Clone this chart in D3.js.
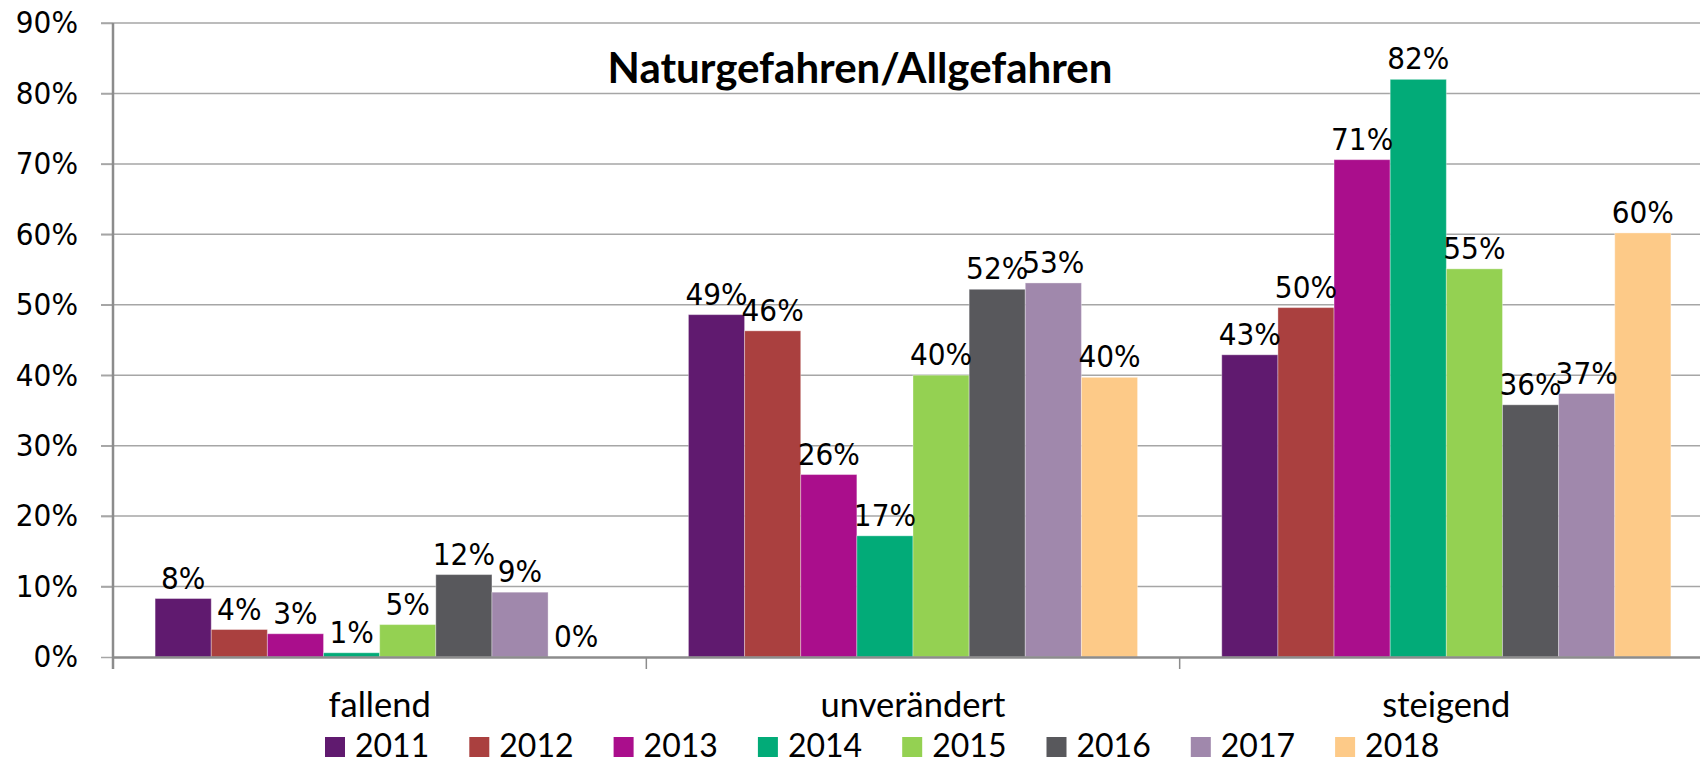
<!DOCTYPE html>
<html>
<head>
<meta charset="utf-8">
<script src="https://cdn.jsdelivr.net/npm/d3@7"></script>
<style>
  body { margin: 0; background: #fff; }
  svg { display: block; }
</style>
</head>
<body>
<div id="chart"></div>
<script>
// Chart data
const categories = ["fallend", "unverändert", "steigend"];
const years = ["2011", "2012", "2013", "2014", "2015", "2016", "2017", "2018"];
const colors = ["#601a6f", "#aa403f", "#aa0e8c", "#02ab78", "#94d152", "#58585c", "#a088ac", "#fdca88"];
// values in percent, one array per category (in year order)
const fallend = [8.3, 3.9, 3.3, 0.6, 4.6, 11.7, 9.2, 0];
const unveraendert = [48.6, 46.3, 25.9, 17.2, 40.0, 52.2, 53.1, 39.7];
const steigend = [42.9, 49.6, 70.6, 82.0, 55.1, 35.8, 37.4, 60.2];
const yTicks = [0, 10, 20, 30, 40, 50, 60, 70, 80, 90];
const title = "Naturgefahren/Allgefahren";

const seriesByCat = [fallend, unveraendert, steigend];

// Canvas
let svgWidth = 1700;
let svgHeight = 763;
let margin = { top: 23, right: -13, bottom: 106, left: 113 };
let width = svgWidth - margin.left - margin.right;
let height = svgHeight - margin.top - margin.bottom;

// text in the original is slightly stretched vertically
const stretch = 1.1;

let svg = d3.select("#chart")
    .append("svg")
    .attr("width", svgWidth)
    .attr("height", svgHeight);

let chartGroup = svg.append("g")
    .attr("transform", `translate(${margin.left}, ${margin.top})`);

// Scales
let x0 = d3.scaleBand()
    .domain(categories)
    .range([0, width])
    .padding(0);

let x1 = d3.scaleBand()
    .domain(years)
    .range([0, x0.bandwidth()])
    .paddingInner(0)
    .paddingOuter(0.75);

let y = d3.scaleLinear()
    .domain([0, 90])
    .range([height, 0]);

// Gridlines
chartGroup.append("g")
    .selectAll("line")
    .data(yTicks.filter(d => d > 0))
    .enter()
    .append("line")
    .attr("x1", -12)
    .attr("x2", width)
    .attr("y1", d => y(d))
    .attr("y2", d => y(d))
    .attr("stroke", "#a6a6a6")
    .attr("stroke-width", 1.5);

// Y axis labels
let leftAxis = d3.axisLeft(y)
    .tickValues(yTicks)
    .tickFormat(d => d + "%")
    .tickSize(12)
    .tickPadding(23);

let yAxis = chartGroup.append("g").call(leftAxis);
yAxis.select(".domain").remove();
yAxis.selectAll(".tick line").attr("stroke", "#a6a6a6").attr("stroke-width", 1.5);
yAxis.selectAll("text")
    .attr("transform", `scale(1, ${stretch})`)
    .style("font-family", "DejaVu Sans")
    .style("font-size", "28px")
    .attr("fill", "#000");

// Bars
let rows = [];
categories.forEach((c, i) => {
    years.forEach((yr, j) => {
        rows.push({ cat: c, year: yr, value: seriesByCat[i][j], color: colors[j] });
    });
});

chartGroup.append("g")
    .selectAll("rect")
    .data(rows)
    .enter()
    .append("rect")
    .attr("x", d => x0(d.cat) + x1(d.year))
    .attr("y", d => y(d.value))
    .attr("width", x1.bandwidth())
    .attr("height", d => height - y(d.value))
    .attr("fill", d => d.color)
    .attr("stroke", "rgba(255,255,255,0.35)")
    .attr("stroke-width", 1);

// Value labels
chartGroup.append("g")
    .selectAll("text")
    .data(rows)
    .enter()
    .append("text")
    .attr("transform", d => `translate(${x0(d.cat) + x1(d.year) + x1.bandwidth() / 2}, ${y(d.value) - 10}) scale(1, ${stretch})`)
    .attr("text-anchor", "middle")
    .style("font-family", "DejaVu Sans")
    .style("font-size", "28px")
    .attr("fill", "#000")
    .text(d => Math.round(d.value) + "%");

// Axes lines
chartGroup.append("line")
    .attr("x1", 0).attr("x2", 0)
    .attr("y1", 0).attr("y2", height + 12)
    .attr("stroke", "#8c8c8c")
    .attr("stroke-width", 2.5);

let bottomAxis = d3.axisBottom(x0).tickSize(0).tickPadding(0);
let xAxis = chartGroup.append("g")
    .attr("transform", `translate(0, ${height})`)
    .call(bottomAxis);
xAxis.select(".domain").attr("stroke", "#8c8c8c").attr("stroke-width", 2.5);
xAxis.selectAll("text")
    .attr("y", 60)
    .attr("dy", 0)
    .style("font-family", "Lato")
    .style("font-size", "34.5px")
    .attr("fill", "#000");

// category separators
chartGroup.append("g")
    .selectAll("line")
    .data(categories.slice(1))
    .enter()
    .append("line")
    .attr("x1", d => x0(d)).attr("x2", d => x0(d))
    .attr("y1", height).attr("y2", height + 12)
    .attr("stroke", "#8c8c8c")
    .attr("stroke-width", 1.5);

// Title
svg.append("text")
    .attr("x", 860)
    .attr("y", 83)
    .attr("text-anchor", "middle")
    .style("font-family", "Lato")
    .style("font-weight", "bold")
    .style("font-size", "42px")
    .attr("fill", "#000")
    .text(title);

// Legend
let legendX = d3.scaleBand()
    .domain(years)
    .range([325, 325 + 144.3 * years.length]);

let legend = svg.append("g")
    .selectAll("g")
    .data(years)
    .enter()
    .append("g")
    .attr("transform", d => `translate(${legendX(d)}, 737)`);

legend.append("rect")
    .attr("width", 20)
    .attr("height", 20)
    .attr("fill", (d, i) => colors[i]);

legend.append("text")
    .attr("x", 30)
    .attr("y", 20)
    .style("font-family", "Lato")
    .style("font-size", "32px")
    .attr("fill", "#000")
    .text(d => d);
</script>
</body>
</html>
